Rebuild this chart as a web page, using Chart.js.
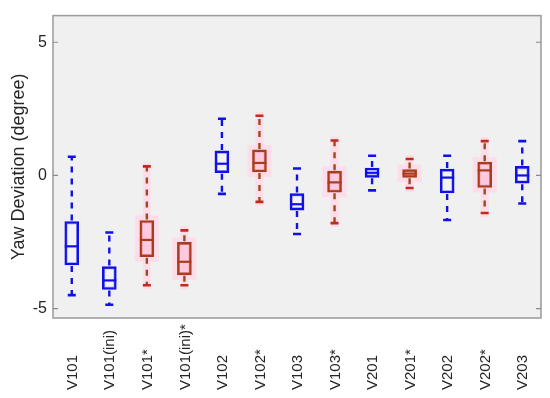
<!DOCTYPE html>
<html>
<head>
<meta charset="utf-8">
<script src="https://cdn.jsdelivr.net/npm/chart.js@4.4.1/dist/chart.umd.min.js"></script>
<style>
html,body{margin:0;padding:0;background:#fff;}
#wrap{width:550px;height:398px;}
</style>
</head>
<body>
<div id="wrap"><canvas id="c" width="550" height="398"></canvas></div>
<script>
const categories = ['V101','V101(ini)','V101*','V101(ini)*','V102','V102*','V103','V103*','V201','V201*','V202','V202*','V203'];
const whiskerLow  = [-4.49,-4.85,-4.12,-4.12,-0.69,-0.99,-2.20,-1.79,-0.56,-0.47,-1.67,-1.41,-1.05];
const q1          = [-3.36,-4.28,-3.05,-3.73, 0.10, 0.13,-1.30,-0.63,-0.07,-0.07,-0.66,-0.45,-0.29];
const median      = [-2.66,-3.94,-2.42,-3.24, 0.44, 0.47,-1.08,-0.26, 0.10, 0.07,-0.08, 0.19, 0.00];
const q3          = [-1.73,-3.42,-1.69,-2.51, 0.92, 0.96,-0.68, 0.16, 0.28, 0.22, 0.24, 0.50, 0.34];
const whiskerHigh = [ 0.70,-2.14, 0.34,-2.06, 2.13, 2.24, 0.26, 1.31, 0.74, 0.62, 0.74, 1.29, 1.29];
const yTicks = [-5, 0, 5];

const isStar = categories.map(c => c.includes('*'));
const BLUE = '#1010e8';
const RED_BOX = '#a83c1c';
const RED_WH = '#9a4a1e';
const RED_CAP = '#c42a1c';
const PINK_FILL = 'rgba(255,195,220,0.7)';
const HALO = 'rgba(255,218,234,0.9)';
const BOXW = 14;

const boxPlugin = {
  id: 'boxParts',
  beforeDraw(chart) {
    const {ctx, chartArea: a} = chart;
    ctx.save();
    ctx.fillStyle = '#f0f0f0';
    ctx.fillRect(a.left, a.top, a.right - a.left, a.bottom - a.top);
    ctx.restore();
  },
  beforeDatasetsDraw(chart) {
    const {ctx} = chart;
    const x = chart.scales.x, y = chart.scales.y;
    ctx.save();
    ctx.fillStyle = HALO;
    categories.forEach((c, i) => {
      if (!isStar[i]) return;
      const px = x.getPixelForValue(i);
      const top = y.getPixelForValue(q3[i]) - 5;
      const bot = y.getPixelForValue(q1[i]) + 5;
      ctx.fillRect(px - BOXW/2 - 5, top, BOXW + 10, bot - top);
      const wt = y.getPixelForValue(whiskerHigh[i]) - 4;
      const wb = y.getPixelForValue(whiskerLow[i]) + 4;
      ctx.fillRect(px - 4, wt, 8, wb - wt);
    });
    ctx.restore();
  },
  afterDatasetsDraw(chart) {
    const {ctx} = chart;
    const x = chart.scales.x, y = chart.scales.y;
    ctx.save();
    categories.forEach((c, i) => {
      const px = x.getPixelForValue(i);
      const star = isStar[i];
      const wc = star ? RED_WH : BLUE;
      const cc = star ? RED_CAP : BLUE;
      const bc = star ? RED_BOX : BLUE;
      const yHi = y.getPixelForValue(whiskerHigh[i]);
      const yLo = y.getPixelForValue(whiskerLow[i]);
      const yQ1 = y.getPixelForValue(q1[i]);
      const yQ3 = y.getPixelForValue(q3[i]);
      const yMed = y.getPixelForValue(median[i]);
      ctx.strokeStyle = wc;
      ctx.lineWidth = 2.4;
      ctx.setLineDash([6, 6]);
      ctx.beginPath();
      ctx.moveTo(px, yQ3 - 1); ctx.lineTo(px, yHi);
      ctx.moveTo(px, yQ1 + 1); ctx.lineTo(px, yLo);
      ctx.stroke();
      ctx.setLineDash([]);
      ctx.strokeStyle = cc;
      ctx.lineWidth = 2.6;
      ctx.beginPath();
      ctx.moveTo(px - 4, yHi); ctx.lineTo(px + 4, yHi);
      ctx.moveTo(px - 4, yLo); ctx.lineTo(px + 4, yLo);
      ctx.stroke();
      ctx.strokeStyle = bc;
      ctx.lineWidth = 2.2;
      ctx.beginPath();
      ctx.moveTo(px - BOXW/2, yMed); ctx.lineTo(px + BOXW/2, yMed);
      ctx.stroke();
    });
    ctx.restore();
  },
  afterDraw(chart) {
    const {ctx, chartArea: a} = chart;
    const x = chart.scales.x, y = chart.scales.y;
    ctx.save();
    ctx.strokeStyle = '#9a9a9a';
    ctx.lineWidth = 1.5;
    ctx.strokeRect(a.left, a.top, a.right - a.left, a.bottom - a.top);
    ctx.strokeStyle = '#8a8a8a';
    ctx.lineWidth = 1.2;
    ctx.beginPath();
    yTicks.forEach(v => {
      const py = y.getPixelForValue(v);
      ctx.moveTo(a.left, py); ctx.lineTo(a.left + 5, py);
      ctx.moveTo(a.right, py); ctx.lineTo(a.right - 5, py);
    });
    ctx.stroke();
    ctx.fillStyle = '#262626';
    ctx.font = '15px "Liberation Sans", Arial, sans-serif';
    ctx.textAlign = 'left';
    ctx.textBaseline = 'middle';
    categories.forEach((c, i) => {
      const px = x.getPixelForValue(i);
      ctx.save();
      ctx.translate(px + 1, 390);
      ctx.rotate(-Math.PI / 2);
      ctx.fillText(c, 0, 0);
      ctx.restore();
    });
    ctx.restore();
  }
};

new Chart(document.getElementById('c'), {
  type: 'bar',
  data: {
    labels: categories,
    datasets: [{
      data: categories.map((c, i) => [q1[i], q3[i]]),
      backgroundColor: isStar.map(s => s ? PINK_FILL : 'rgba(245,245,245,0.6)'),
      borderColor: isStar.map(s => s ? RED_BOX : BLUE),
      borderWidth: 2.4,
      borderSkipped: false,
      barThickness: BOXW
    }]
  },
  options: {
    responsive: false,
    animation: false,
    devicePixelRatio: 1,
    layout: { padding: { top: 8, right: 9, left: 0, bottom: 0 } },
    plugins: { legend: { display: false }, tooltip: { enabled: false } },
    scales: {
      x: {
        grid: { display: false },
        border: { display: false },
        ticks: { display: false },
        afterFit(scale) { scale.height = 80; }
      },
      y: {
        min: -5.35,
        max: 6,
        grid: { display: false, drawTicks: false },
        border: { display: false },
        afterBuildTicks(scale) { scale.ticks = yTicks.map(v => ({ value: v })); },
        ticks: {
          padding: 6,
          color: '#262626',
          font: { family: '"Liberation Sans", Arial, sans-serif', size: 16 },
          callback: v => String(v)
        },
        title: {
          display: true,
          text: 'Yaw Deviation (degree)',
          color: '#262626',
          font: { family: '"Liberation Sans", Arial, sans-serif', size: 18 },
          padding: { top: 8, bottom: 0 }
        },
        afterFit(scale) { scale.width = 53; }
      }
    }
  },
  plugins: [boxPlugin]
});
</script>
</body>
</html>
